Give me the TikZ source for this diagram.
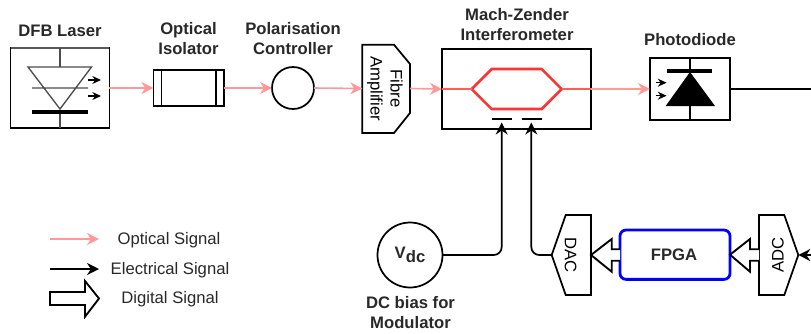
\documentclass[tikz,border=0pt]{standalone}
\usepackage{fontspec}
\setmainfont{Liberation Sans}
\usetikzlibrary{arrows.meta}
\definecolor{figP}{RGB}{255,153,153}
\definecolor{figR}{RGB}{255,51,51}
\definecolor{figB}{RGB}{0,0,255}
\definecolor{figT}{RGB}{40,40,40}
\tikzset{
  optic/.style={->,line width=1.2pt,figP},
  elec/.style={->,line width=1.3pt,black,rounded corners=6pt},
  small/.style={->,line width=.9pt,>={Stealth[length=6.5pt,width=6pt]}},
  block/.style={draw,line width=1.3pt,outer sep=0pt,inner sep=0pt},
  digi/.style={draw,line width=1.4pt,fill=white,line join=miter},
  title/.style={font=\fontsize{12.5}{15}\selectfont\bfseries,text=figT,align=center,inner sep=0pt},
  legend/.style={font=\fontsize{12.5}{15}\selectfont,text=figT,inner sep=0pt},
  plain/.style={font=\fontsize{12.5}{15}\selectfont,text=black,align=center,inner sep=0pt},
}
\begin{document}
\begin{tikzpicture}[x=.75pt,y=-.75pt,>={Stealth[length=9pt,width=9pt]}]
\useasboundingbox (0,0) rectangle (811,333);
% blocks along the optical path
\node[block,line width=1pt,minimum width=73.9pt,minimum height=60pt] (laser) at (60,88) {};
\node[block,minimum width=52.9pt,minimum height=27pt] (iso) at (188.7,88) {};
\node[block,circle,minimum size=31.5pt] (pol) at (293,88) {};
\node[block,minimum width=111.5pt,minimum height=59.5pt] (mzi) at (516.3,89) {};
\node[block,minimum width=60pt,minimum height=46.5pt] (pd) at (690,89) {};
\coordinate (ampW) at (362.3,88.5); \coordinate (ampE) at (410,88.5);
\draw[block] (362.3,44.7)--(394,44.7)--(410,64)--(410,113)--(394,133)--(362.3,133)--cycle;
\node[plain,rotate=-90] (amptext) at (385,88.5) {Fibre\\Amplifier};
% laser symbol
\draw[line width=1.6pt,black!65] (laser.north west)--(laser.north east);
\coordinate (lasT) at (60,67); \coordinate (lasB) at (60,109); \coordinate (lasBar) at (60,112);
\draw[line width=1.2pt,black!70] (laser.north)--(lasT) (lasBar)--(laser.south);
\draw[line width=1pt,black!70] (28,67)--(91.5,67)--(lasB)--cycle (32,88)--(88,88);
\draw[line width=3pt] (32,112)--(88,112);
\coordinate (lasA1) at (88,80); \coordinate (lasA2) at (101,80);
\coordinate (lasA3) at (88,96); \coordinate (lasA4) at (101,96);
\draw[small] (lasA1)--(lasA2); \draw[small] (lasA3)--(lasA4);
% isolator walls
\draw[line width=1.3pt] (161.5,70)--(161.5,106) (216,70)--(216,106);
% interferometer arms
\coordinate (armW) at (471.7,89); \coordinate (armE) at (561.7,89);
\draw[line width=1.9pt,figR] (armW)--(491.7,69)--(541.7,69)--(armE)--(541.7,109)--(491.7,109)--cycle;
\draw[line width=1.2pt] (491.7,118.7)--(511.7,118.7) (521.7,118.7)--(541.7,118.7);
\coordinate (elL) at (501.7,122.5); \coordinate (elR) at (531.3,122.5);
% photodiode symbol
\draw[line width=.9pt] (pd.north)--(pd.south);
\draw[line width=3pt] (667,70.7)--(712,70.7);
\fill (690,72)--(715,106)--(665.7,106)--cycle;
\coordinate (pdA1) at (655.7,82.7); \coordinate (pdA2) at (666.5,82.7);
\coordinate (pdA3) at (655.7,95.7); \coordinate (pdA4) at (666.5,95.7);
\draw[small] (pdA1)--(pdA2); \draw[small] (pdA3)--(pdA4);
% optical connections
\draw[optic] (laser.east)--(iso.west);
\draw[optic] (iso.east)--(pol.west);
\draw[optic] (pol.east)--(ampW);
\draw[optic] (ampE)--(mzi.west);
\draw[line width=.9pt,figR!80] (mzi.west)--(armW);
\draw[line width=.9pt,figR!80] (armE)--(mzi.east);
\draw[optic] (mzi.east)--(pd.west);
\coordinate (outE) at (811,89);
\draw[line width=1.3pt] (pd.east)--(outE);
% lower row
\node[block,circle,minimum size=48.75pt,title] (vdc) at (410,255) {V\raisebox{-3pt}{dc}};
\node[block,line width=2.1pt,figB,rounded corners=4.5pt,minimum width=82.5pt,minimum height=37pt] (fpga) at (675,254.7) {};
\node[title] (fpgatext) at (674,255) {FPGA};
\coordinate (dacW) at (551.7,255); \coordinate (dacE) at (591,255);
\coordinate (adcW) at (759,255); \coordinate (adcE) at (798.3,255); \coordinate (inE) at (811,255);
\draw[block] (dacW)--(565.7,215)--(591,215)--(dacE)--(591,295)--(565.7,295)--cycle;
\draw[block] (759,215)--(784.3,215)--(adcE)--(784.3,295)--(759,295)--cycle;
\node[plain,rotate=-90] (dactext) at (570.5,255) {DAC};
\node[plain,rotate=90] (adctext) at (778,255) {ADC};
\draw[elec] (vdc.east)-|(elL);
\draw[elec] (dacW)-|(elR);
\draw[elec] (inE)--(adcE);
\draw[digi] (620,249.3)--(611.7,249.3)--(611.7,239)--(dacE)--(611.7,271.7)--(611.7,260.7)--(620,260.7);
\draw[digi] (759,249.3)--(750,249.3)--(750,239)--(fpga.east)--(750,271.7)--(750,260.7)--(759,260.7);
% labels
\node[title] (tlaser) at (60,31) {DFB Laser};
\node[title] (tiso) at (188.5,39) {Optical\\Isolator};
\node[title] (tpol) at (293,39) {Polarisation\\Controller};
\node[title] (tmzi) at (517,24.5) {Mach-Zender\\Interferometer};
\node[title] (tpd) at (690,40) {Photodiode};
\node[title] (tvdc) at (410.5,312.5) {DC bias for\\Modulator};
% legend
\coordinate (legA) at (50,239); \coordinate (legB) at (99,239);
\coordinate (legC) at (50,269); \coordinate (legD) at (99,269);
\draw[optic] (legA)--(legB);
\draw[elec] (legC)--(legD);
\draw[digi] (50,292)--(85,292)--(85,281)--(99,298.5)--(85,316.7)--(85,305)--(50,305)--cycle;
\node[legend] (lopt) at (169,240) {Optical Signal};
\node[legend] (lele) at (170,270) {Electrical Signal};
\node[legend] (ldig) at (170,299) {Digital Signal};
\end{tikzpicture}
\end{document}
